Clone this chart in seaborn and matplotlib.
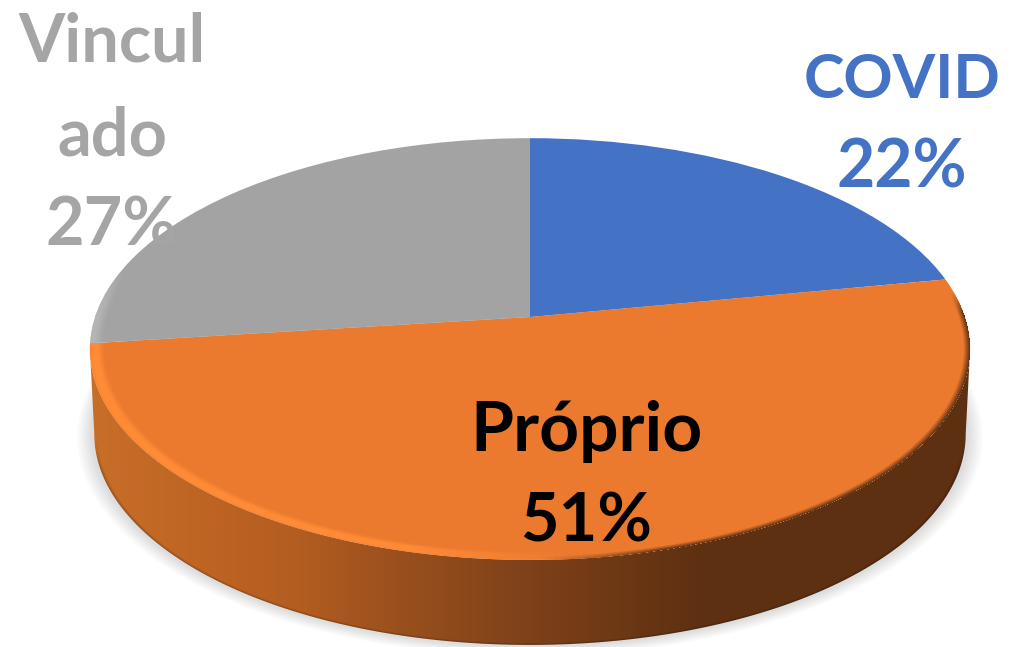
import numpy as np
import matplotlib
matplotlib.use('Agg')
import matplotlib.pyplot as plt
import seaborn as sns
from matplotlib.colors import to_rgb
from matplotlib.patches import Polygon
from matplotlib.path import Path
from matplotlib.transforms import Transform

labels = ['COVID', 'Próprio', 'Vinculado']
values = [22, 51, 27]
slice_colors = ['#4472C4', '#EB7A2F', '#A3A3A3']
label_lines = [['COVID', '22%'], ['Próprio', '51%'], ['Vincul', 'ado', '27%']]
label_colors = ['#4472C4', '#000000', '#A5A5A5']
label_x = [902, 586, 112]
label_y = [[98, 188], [451, 541], [62, 155, 245]]
label_sizes = [[44, 47.5], [50, 48], [48, 48, 48]]

wall_x = [95, 200, 300, 350, 450, 530, 640, 700, 1010]
wall_colors = ['#C76E28', '#BF6524', '#B35D21', '#A5561F', '#8F4A1C', '#7E4119', '#693614', '#5E3012', '#5E3012']

# pie geometry in pixels
cx, cy = 530, 317
A, B, k = 206, 435, 0.152
wall_drop, wall_scale = 85, 0.99


def project(u, v, drop=0, scale=1.0):
    w = 1 + k * v
    return cx + scale * B * u / w, cy + drop - A * v / w


def unproject(X, Y, drop=0, scale=1.0):
    dx = (X - cx) / (scale * B)
    dy = -(Y - cy - drop) / A
    v = dy / (1 - k * dy)
    u = dx * (1 + k * v)
    return u, v


class Perspective(Transform):
    input_dims = 2
    output_dims = 2

    def transform_non_affine(self, values):
        values = np.asarray(values)
        x, y = project(values[:, 0], values[:, 1])
        return np.column_stack([x, y])

    def transform_path_non_affine(self, path):
        return Path(self.transform_non_affine(path.vertices), path.codes)


sns.set_theme(style='white')
plt.rcParams['font.family'] = ['Lato', 'DejaVu Sans']

fig = plt.figure(figsize=(10.1, 6.47), dpi=100)
ax = fig.add_axes([0, 0, 1, 1])

wedges, _ = ax.pie(values, colors=sns.color_palette(slice_colors), startangle=90,
                   counterclock=False, radius=1, wedgeprops={'linewidth': 0})
persp = Perspective()
for w in wedges:
    w.set_transform(persp + ax.transData)
    w.set_zorder(3)

X, Y = np.meshgrid(np.arange(1010) + 0.5, np.arange(647) + 0.5)
extent = (0, 1010, 647, 0)

# soft shadow under the pie
u, v = unproject(X, Y, wall_drop, wall_scale)
r_bot = np.hypot(u, v)
shadow = np.ones((647, 1010, 4))
shadow[..., :3] = 0.87
shadow[..., 3] = np.clip((1.04 - r_bot) / 0.035, 0, 1)
ax.imshow(shadow, extent=extent, aspect='auto', zorder=1, interpolation='bilinear')

# side wall, gradient from left to right
rgb = np.array([to_rgb(c) for c in wall_colors])
wall = np.stack([np.interp(X, wall_x, rgb[:, i]) for i in range(3)], axis=-1)
dark = np.clip((r_bot - 0.992) / 0.008, 0, 1) * np.clip((Y - 440) / 30, 0, 1) * 0.25
wall = wall * (1 - dark[..., None])
wall_img = ax.imshow(wall, extent=extent, aspect='auto', zorder=2, interpolation='bilinear')
t = np.radians(np.linspace(188.7, 351.3, 240))
top_x, top_y = project(np.cos(t), np.sin(t))
low_x, low_y = project(np.cos(t), np.sin(t), wall_drop, wall_scale)
outline = np.column_stack([np.r_[top_x, low_x[::-1]], np.r_[top_y, low_y[::-1]]])
clip = Polygon(outline, closed=True, transform=ax.transData, fill=False, linewidth=0)
ax.add_patch(clip)
wall_img.set_clip_path(clip)

# rim of the top face: light on the left, dark on the right
u, v = unproject(X, Y)
r = np.hypot(u, v)
ang = (90 - np.degrees(np.arctan2(v, u))) % 360
orange_on = (ang > values[0] * 3.6) & (ang < (values[0] + values[1]) * 3.6)
gray_on = ang >= (values[0] + values[1]) * 3.6

rim = np.zeros((647, 1010, 4))
light = np.clip((1 - np.abs(r - 0.988) / 0.02) * 1.5, 0, 1) * np.clip((570 - X) / 160, 0, 1) * orange_on
shade = np.clip((r - 0.985) / 0.015, 0, 1) * np.clip((X - 540) / 120, 0, 1) * orange_on
shade = shade * np.clip((0.12 - v) / 0.1, 0, 1)
gray_rim = np.clip((r - 0.97) / 0.02, 0, 1) * np.clip((125 - X) / 25, 0, 1) * gray_on * 0.5

for i in range(3):
    c_light, c_shade, c_gray = to_rgb('#FF8B37')[i], to_rgb('#5E3012')[i], to_rgb('#C6C6C6')[i]
    rim[..., i] = (light * c_light + shade * c_shade + gray_rim * c_gray) / np.maximum(light + shade + gray_rim, 1e-6)
rim[..., 3] = np.clip(light + shade + gray_rim, 0, 1) * (r < 1.0)
ax.imshow(rim, extent=extent, aspect='auto', zorder=4, interpolation='bilinear')

for lines, col, x, ys, sizes in zip(label_lines, label_colors, label_x, label_y, label_sizes):
    for line, y, size in zip(lines, ys, sizes):
        ax.text(x, y, line, color=col, fontsize=size, fontweight='bold', ha='center', va='baseline', zorder=6)

ax.set_xlim(0, 1010)
ax.set_ylim(647, 0)
ax.set_aspect('auto')
ax.axis('off')

fig.savefig('out.png', dpi=100, facecolor='white')
